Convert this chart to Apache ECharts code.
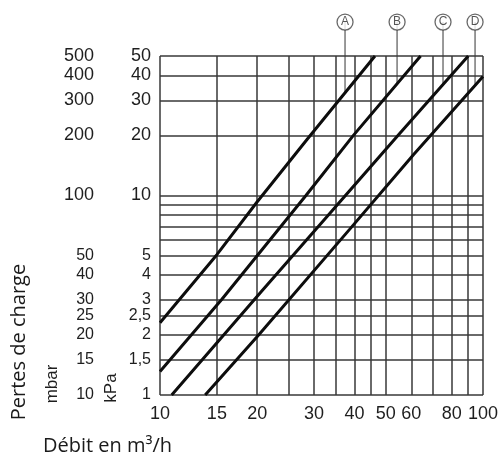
<!DOCTYPE html>
<html><head><meta charset="utf-8">
<script src="https://cdn.jsdelivr.net/npm/echarts@6/dist/echarts.min.js"></script>
<style>html,body{margin:0;padding:0;background:#fff}#c{width:504px;height:457px}</style>
</head><body><div id="c"></div>
<script>
// ---- data ----
const curveNames = ['A', 'B', 'C', 'D'];
const flowA = [10, 15, 20, 28.6, 46.3];
const lossA = [2.3, 5.05, 9.3, 19.2, 50];
const flowB = [10, 15.5, 28.3, 39.7, 64.1];
const lossB = [1.31, 3, 10, 20, 50];
const flowC = [10.87, 20.6, 30.2, 55.3, 90];
const lossC = [1, 3.3, 6.7, 20.5, 50];
const flowD = [13.8, 20.2, 38.75, 60.9, 100];
const lossD = [1, 2, 6.8, 16, 39.5];
const labelFlow = [37.4, 54.2, 75.2, 94.5];

const flowTicks = [10, 15, 20, 30, 40, 50, 60, 80, 100];
const flowGrid = [10, 15, 20, 25, 30, 35, 40, 45, 50, 60, 70, 80, 90, 100];
const kpaTicks = [1, 1.5, 2, 2.5, 3, 4, 5, 10, 20, 30, 40, 50];
const kpaGrid = [1, 1.5, 2, 2.5, 3, 4, 5, 6, 7, 8, 9, 10, 20, 30, 40, 50];
const mbarTicks = [10, 15, 20, 25, 30, 40, 50, 100, 200, 300, 400, 500];

const flows = [flowA, flowB, flowC, flowD];
const losses = [lossA, lossB, lossC, lossD];
const LABEL_LEVEL = 74; // circled letters sit above the top of the grid

function interpLog(fx, fy, q) {
  for (let j = 0; j < fx.length - 1; j++) {
    if (q >= fx[j] && q <= fx[j + 1]) {
      const t = (Math.log(q) - Math.log(fx[j])) / (Math.log(fx[j + 1]) - Math.log(fx[j]));
      return Math.exp(Math.log(fy[j]) + t * (Math.log(fy[j + 1]) - Math.log(fy[j])));
    }
  }
  return fy[fy.length - 1];
}

const NUMFONT = 'Liberation Sans';
const TXT = '#1e1e1e';
function richFmt(th) {
  return v => (v >= th ? '{b|' : '{s|') + String(v).replace('.', ',') + '}';
}
const rich = {
  b: { fontSize: 18, fontFamily: NUMFONT, color: TXT },
  s: { fontSize: 16, fontFamily: NUMFONT, color: TXT }
};

const series = [];
series.push({
  type: 'line', data: [], silent: true, z: 1, animation: false,
  markLine: {
    silent: true, animation: false, symbol: ['none', 'none'],
    label: { show: false },
    lineStyle: { color: '#383838', width: 1.5, type: 'solid' },
    emphasis: { disabled: true },
    data: flowGrid.map(v => ({ xAxis: v })).concat(kpaGrid.map(v => ({ yAxis: v })))
  }
});
curveNames.forEach((n, i) => {
  series.push({
    type: 'line', name: n, z: 5, silent: true, animation: false,
    data: flows[i].map((f, j) => [f, losses[i][j]]),
    showSymbol: false, symbol: 'none',
    lineStyle: { color: '#0d0d0d', width: 3 }
  });
  const q = labelFlow[i];
  const yc = interpLog(flows[i], losses[i], q);
  const lead = [[q, yc], [q, LABEL_LEVEL]];
  series.push({
    type: 'line', z: 3, clip: false, silent: true, animation: false, symbol: 'none',
    data: lead, lineStyle: { color: '#fff', width: 5 }
  });
  series.push({
    type: 'line', z: 4, clip: false, silent: true, animation: false, symbol: 'none',
    data: lead, lineStyle: { color: '#808080', width: 1.6 }
  });
  series.push({
    type: 'scatter', z: 6, clip: false, silent: true, animation: false,
    data: [[q, LABEL_LEVEL]], symbol: 'circle', symbolSize: 16,
    itemStyle: { color: '#fff', borderColor: '#444', borderWidth: 1.3 },
    label: { show: true, position: 'inside', formatter: n, fontSize: 12,
             fontFamily: NUMFONT, color: '#2a2a2a' }
  });
});

const chart = echarts.init(document.getElementById('c'), null, { renderer: 'canvas' });
chart.setOption({
  animation: false,
  backgroundColor: '#fff',
  grid: { left: 160, right: 21, top: 56, bottom: 62, containLabel: false },
  xAxis: {
    type: 'log', logBase: 10, min: 10, max: 100,
    axisLine: { show: false }, axisTick: { show: false }, splitLine: { show: false },
    axisLabel: { customValues: flowTicks, margin: 10, fontSize: 18, fontFamily: NUMFONT, color: TXT,
                 showMinLabel: true, showMaxLabel: true, hideOverlap: false }
  },
  yAxis: [
    {
      type: 'log', logBase: 10, min: 1, max: 50, position: 'left',
      axisLine: { show: false }, axisTick: { show: false }, splitLine: { show: false },
      axisLabel: { customValues: kpaTicks, margin: 9, formatter: richFmt(10), rich: rich,
                   hideOverlap: false }
    },
    {
      type: 'log', logBase: 10, min: 10, max: 500, position: 'left', offset: 57,
      axisLine: { show: false }, axisTick: { show: false }, splitLine: { show: false },
      axisLabel: { customValues: mbarTicks, margin: 9, formatter: richFmt(100), rich: rich,
                   hideOverlap: false }
    }
  ],
  graphic: [
    { type: 'text', x: 19, y: 342, rotation: Math.PI / 2,
      style: { text: 'Pertes de charge', fontSize: 20, fontFamily: 'Open Sans', fill: '#1a1a1a',
               textAlign: 'center', textVerticalAlign: 'middle' } },
    { type: 'text', x: 52, y: 384, rotation: Math.PI / 2,
      style: { text: 'mbar', fontSize: 17, fontFamily: NUMFONT, fill: TXT,
               textAlign: 'center', textVerticalAlign: 'middle' } },
    { type: 'text', x: 111, y: 388, rotation: Math.PI / 2,
      style: { text: 'kPa', fontSize: 17, fontFamily: NUMFONT, fill: TXT,
               textAlign: 'center', textVerticalAlign: 'middle' } },
    { type: 'text', x: 43, y: 446,
      style: { text: 'Débit en m³/h', fontSize: 20, fontFamily: 'Open Sans', fill: '#1a1a1a',
               textAlign: 'left', textVerticalAlign: 'middle' } }
  ],
  series: series
});
</script>
</body></html>
